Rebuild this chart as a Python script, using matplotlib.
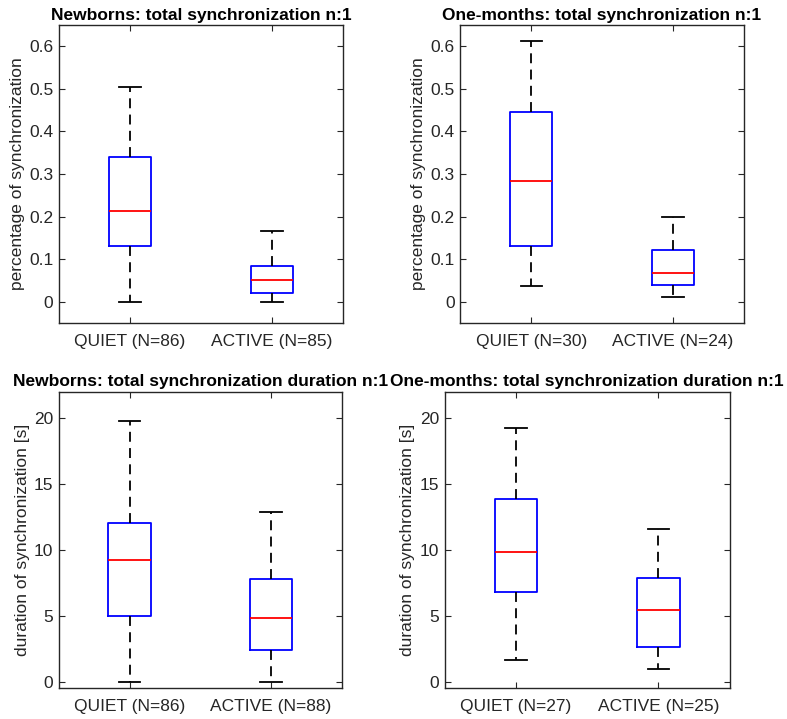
import matplotlib
matplotlib.use("Agg")
import matplotlib.pyplot as plt

plt.rcParams['font.family'] = ['Liberation Sans', 'DejaVu Sans']

# box stats: (whisker low, Q1, median, Q3, whisker high)
titles = ["Newborns: total synchronization n:1",
          "One-months: total synchronization n:1",
          "Newborns: total synchronization duration n:1",
          "One-months: total synchronization duration n:1"]
ylabels = ["percentage of synchronization", "percentage of synchronization",
           "duration of synchronization [s]", "duration of synchronization [s]"]
xlabels_nb_pct = ["QUIET (N=86)", "ACTIVE (N=85)"]
xlabels_om_pct = ["QUIET (N=30)", "ACTIVE (N=24)"]
xlabels_nb_dur = ["QUIET (N=86)", "ACTIVE (N=88)"]
xlabels_om_dur = ["QUIET (N=27)", "ACTIVE (N=25)"]

nb_pct_quiet = [0.0, 0.130, 0.214, 0.339, 0.504]
nb_pct_active = [0.0, 0.021, 0.051, 0.084, 0.166]
om_pct_quiet = [0.037, 0.130, 0.283, 0.445, 0.612]
om_pct_active = [0.011, 0.038, 0.067, 0.121, 0.200]
nb_dur_quiet = [0.0, 4.97, 9.22, 12.03, 19.75]
nb_dur_active = [0.0, 2.41, 4.80, 7.81, 12.86]
om_dur_quiet = [1.66, 6.78, 9.87, 13.89, 19.29]
om_dur_active = [0.96, 2.62, 5.43, 7.84, 11.58]

panels = [
    (nb_pct_quiet, nb_pct_active, xlabels_nb_pct, [0.075, 0.551, 0.361, 0.414]),
    (om_pct_quiet, om_pct_active, xlabels_om_pct, [0.585, 0.551, 0.360, 0.414]),
    (nb_dur_quiet, nb_dur_active, xlabels_nb_dur, [0.075, 0.043, 0.359, 0.412]),
    (om_dur_quiet, om_dur_active, xlabels_om_dur, [0.565, 0.043, 0.362, 0.412]),
]

fig = plt.figure(figsize=(7.87, 7.19), dpi=100)
dark = '#262626'

for i, (q, a, xl, pos) in enumerate(panels):
    ax = fig.add_axes(pos)
    stats = []
    for s, lab in zip([q, a], xl):
        stats.append(dict(whislo=s[0], q1=s[1], med=s[2], q3=s[3], whishi=s[4],
                          fliers=[], label=lab))
    ax.bxp(stats, positions=[1, 2], widths=0.3, showfliers=False,
           boxprops=dict(color='blue', linewidth=1.3),
           medianprops=dict(color='red', linewidth=1.3),
           whiskerprops=dict(color='black', linestyle=(0, (5.5, 3.5)), linewidth=1.3),
           capprops=dict(color='black', linewidth=1.3),
           capwidths=0.15)
    ax.set_xlim(0.5, 2.5)
    if i < 2:
        ax.set_ylim(-0.05, 0.65)
        ax.set_yticks([0, 0.1, 0.2, 0.3, 0.4, 0.5, 0.6])
        ax.set_yticklabels(['0', '0.1', '0.2', '0.3', '0.4', '0.5', '0.6'])
    else:
        ax.set_ylim(-0.5, 22)
        ax.set_yticks([0, 5, 10, 15, 20])
    ax.set_title(titles[i], fontsize=12.5, fontweight='bold', pad=4)
    ax.set_ylabel(ylabels[i], fontsize=12.5, color=dark, labelpad=3)
    ax.tick_params(direction='in', top=True, right=True, length=4,
                   labelsize=12.5, colors=dark)
    ax.tick_params(axis='x', pad=8)
    ax.tick_params(axis='y', pad=4)
    for sp in ax.spines.values():
        sp.set_color(dark)
        sp.set_linewidth(1.0)

fig.savefig("out.png", dpi=100)
